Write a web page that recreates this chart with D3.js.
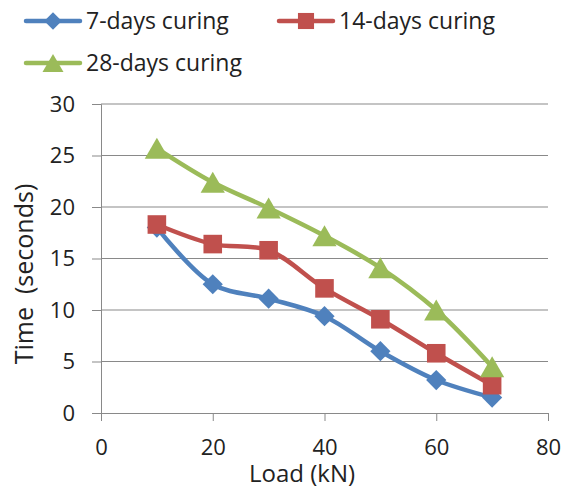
<!DOCTYPE html>
<html>
<head>
<meta charset="utf-8">
<script src="https://cdn.jsdelivr.net/npm/d3@7"></script>
<style>
  body { margin: 0; background: #fff; }
  text { font-family: 'Open Sans', 'Noto Sans', sans-serif; fill: #222; }
</style>
</head>
<body>
<svg id="chart" width="567" height="488"></svg>
<script>
// data
const loads      = [10, 20, 30, 40, 50, 60, 70]
const days7      = [18.0, 12.5, 11.1, 9.4, 6.0, 3.2, 1.5]
const days14     = [18.3, 16.4, 15.8, 12.1, 9.1, 5.8, 2.7]
const days28     = [25.7, 22.4, 19.9, 17.2, 14.1, 10.0, 4.5]
const seriesNames = ['7-days curing', '14-days curing', '28-days curing']
const xTicks     = [0, 20, 40, 60, 80]
const yTicks     = [0, 5, 10, 15, 20, 25, 30]

const COLORS  = ['#4F81BD', '#C0504D', '#9BBB59']
const SYMBOLS = [d3.symbolDiamond2, d3.symbolSquare2, d3.symbolTriangle2]
const SIZES   = [260, 440, 420]

const svg = d3.select('#chart')
const margin = { left: 101, right: 19, top: 104, bottom: 75 }
const W = 567, H = 488

const x = d3.scaleLinear().domain([0, 80]).range([margin.left, W - margin.right])
const y = d3.scaleLinear().domain([0, 30]).range([H - margin.bottom, margin.top])

const gray = '#898989'

// gridlines
svg.append('g').selectAll('line')
  .data(yTicks.filter((t) => t > 0)).enter()
  .append('line')
  .attr('x1', x(0)).attr('x2', x(80))
  .attr('y1', (d) => y(d)).attr('y2', (d) => y(d))
  .attr('stroke', gray).attr('stroke-width', 1)

// axes
const yAxis = svg.append('g')
  .attr('transform', `translate(${x(0)},0)`)
  .call(d3.axisLeft(y).tickValues(yTicks).tickSize(9).tickPadding(17))
const xAxis = svg.append('g')
  .attr('transform', `translate(0,${y(0)})`)
  .call(d3.axisBottom(x).tickValues(xTicks).tickSize(8).tickPadding(18))

for (const ax of [xAxis, yAxis]) {
  ax.select('.domain').attr('stroke', gray)
  ax.selectAll('.tick line').attr('stroke', gray)
  ax.selectAll('.tick text')
    .style('font-family', "'Open Sans', 'Noto Sans', sans-serif")
    .style('font-size', '22px').attr('fill', '#222')
}

// axis titles
svg.append('text')
  .attr('x', 302).attr('y', 482)
  .attr('text-anchor', 'middle')
  .style('font-size', '24px')
  .text('Load (kN)')
svg.append('text')
  .attr('transform', 'translate(33,274) rotate(-90)')
  .attr('text-anchor', 'middle')
  .style('font-size', '25px')
  .attr('xml:space', 'preserve')
  .text('Time  (seconds)')

// series
const series = [days7, days14, days28].map((vals, i) => ({
  name: seriesNames[i],
  points: loads.map((l, j) => ({ x: l, y: vals[j] })),
  i,
}))

const line = d3.line()
  .x((d) => x(d.x)).y((d) => y(d.y))
  .curve(d3.curveCatmullRom.alpha(0.5))

// triangles: centre the bounding box on the point, like the original
const markerShift = (i, size) => (i === 2 ? Math.sqrt(size) * 0.6824 / 4 : 0)

const sg = svg.append('g').selectAll('g')
  .data(series).enter().append('g')

sg.append('path')
  .attr('d', (s) => line(s.points))
  .attr('fill', 'none')
  .attr('stroke', (s) => COLORS[s.i])
  .attr('stroke-width', 4.5)
  .attr('stroke-linejoin', 'round')

sg.each(function (s) {
  d3.select(this).selectAll('path.marker')
    .data(s.points).enter()
    .append('path')
    .attr('class', 'marker')
    .attr('d', d3.symbol().type(SYMBOLS[s.i]).size(SIZES[s.i]))
    .attr('transform', (d) => `translate(${x(d.x)},${y(d.y) + markerShift(s.i, SIZES[s.i])})`)
    .attr('fill', COLORS[s.i])
})

// legend
const legendPos = [[26, 21], [279, 21], [26, 63]]
const lg = svg.append('g').selectAll('g')
  .data(series).enter().append('g')
  .attr('transform', (s) => `translate(${legendPos[s.i][0]},${legendPos[s.i][1]})`)
lg.append('line')
  .attr('x1', 0).attr('x2', 54)
  .attr('stroke', (s) => COLORS[s.i]).attr('stroke-width', 4.5)
  .attr('stroke-linecap', 'round')
lg.append('path')
  .attr('d', (s) => d3.symbol().type(SYMBOLS[s.i]).size(SIZES[s.i] * 0.75)())
  .attr('transform', (s) => `translate(27,${markerShift(s.i, SIZES[s.i] * 0.75)})`)
  .attr('fill', (s) => COLORS[s.i])
lg.append('text')
  .attr('x', 60).attr('dy', '0.36em')
  .style('font-size', '23px')
  .text((s) => s.name)
</script>
</body>
</html>
